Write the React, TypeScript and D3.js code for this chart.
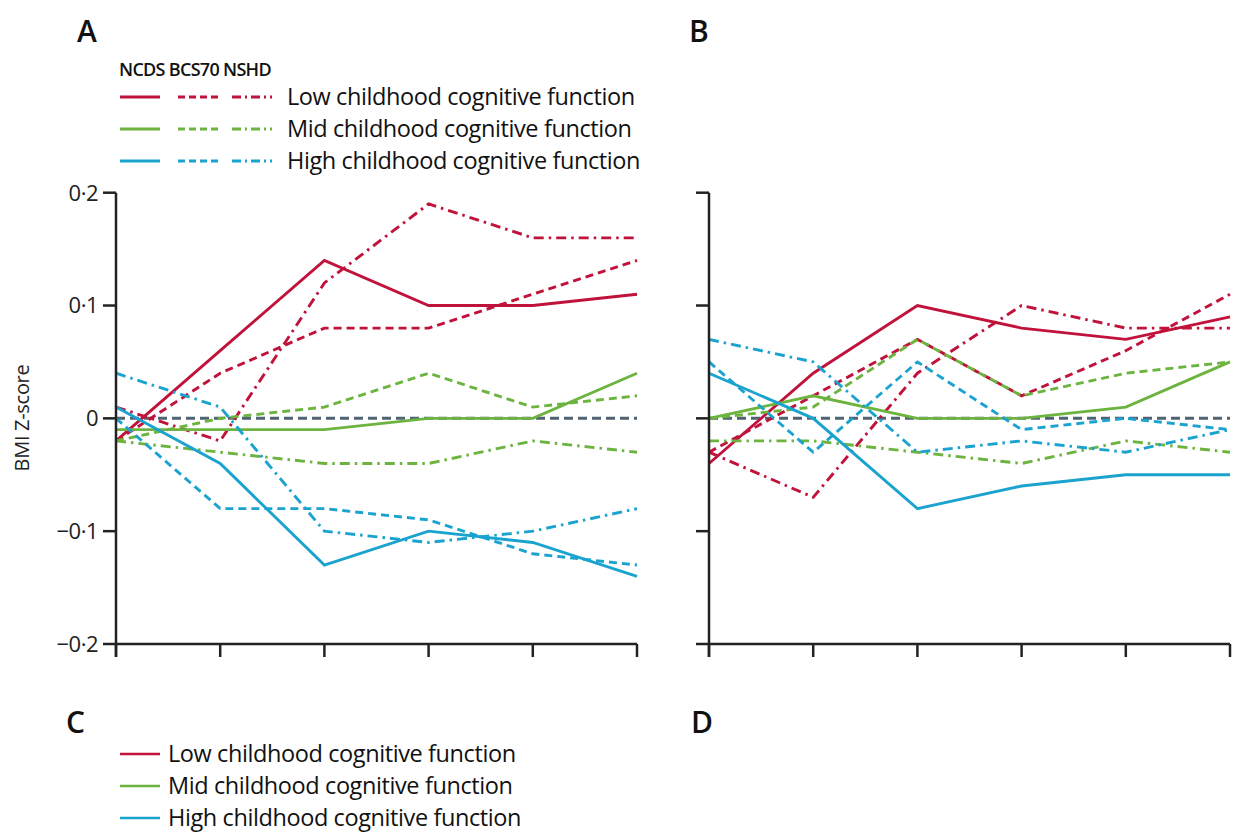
import * as d3 from "d3";
import React from "react";

// time points (x axis has no labels in the figure)
const waves = ["w1", "w2", "w3", "w4", "w5", "w6"];
const cohorts = ["NCDS", "BCS70", "NSHD"];
const groups = ["Low", "Mid", "High"];
const groupLabels = [
  "Low childhood cognitive function",
  "Mid childhood cognitive function",
  "High childhood cognitive function",
];
const yTicks = [0.2, 0.1, 0, -0.1, -0.2];
const yTickLabels = ["0·2", "0·1", "0", "−0·1", "−0·2"];

// Panel A
const aLowNCDS = [-0.02, 0.06, 0.14, 0.1, 0.1, 0.11];
const aLowBCS70 = [-0.02, 0.04, 0.08, 0.08, 0.11, 0.14];
const aLowNSHD = [0.01, -0.02, 0.12, 0.19, 0.16, 0.16];
const aMidNCDS = [-0.01, -0.01, -0.01, 0.0, 0.0, 0.04];
const aMidBCS70 = [-0.02, 0.0, 0.01, 0.04, 0.01, 0.02];
const aMidNSHD = [-0.02, -0.03, -0.04, -0.04, -0.02, -0.03];
const aHighNCDS = [0.01, -0.04, -0.13, -0.1, -0.11, -0.14];
const aHighBCS70 = [0.0, -0.08, -0.08, -0.09, -0.12, -0.13];
const aHighNSHD = [0.04, 0.01, -0.1, -0.11, -0.1, -0.08];

// Panel B
const bLowNCDS = [-0.04, 0.04, 0.1, 0.08, 0.07, 0.09];
const bLowBCS70 = [-0.03, 0.02, 0.07, 0.02, 0.06, 0.11];
const bLowNSHD = [-0.03, -0.07, 0.04, 0.1, 0.08, 0.08];
const bMidNCDS = [0.0, 0.02, 0.0, 0.0, 0.01, 0.05];
const bMidBCS70 = [0.0, 0.01, 0.07, 0.02, 0.04, 0.05];
const bMidNSHD = [-0.02, -0.02, -0.03, -0.04, -0.02, -0.03];
const bHighNCDS = [0.04, 0.0, -0.08, -0.06, -0.05, -0.05];
const bHighBCS70 = [0.05, -0.03, 0.05, -0.01, 0.0, -0.01];
const bHighNSHD = [0.07, 0.05, -0.03, -0.02, -0.03, -0.01];

const panelA = [
  [aLowNCDS, aLowBCS70, aLowNSHD],
  [aMidNCDS, aMidBCS70, aMidNSHD],
  [aHighNCDS, aHighBCS70, aHighNSHD],
];
const panelB = [
  [bLowNCDS, bLowBCS70, bLowNSHD],
  [bMidNCDS, bMidBCS70, bMidNSHD],
  [bHighNCDS, bHighBCS70, bHighNSHD],
];

const colors = { Low: "#c1123b", Mid: "#6cb43f", High: "#1ba3cf" };
const dashes = { NCDS: null, BCS70: "8,5", NSHD: "10,5,2.5,5" };
const FONT = "'Open Sans', sans-serif";

const y = d3.scaleLinear().domain([-0.2, 0.2]).range([644, 192.7]);

function Panel({ x0, x1, data, showLabels }) {
  const x = d3.scalePoint().domain(waves).range([x0, x1]);
  const line = d3
    .line<number>()
    .x((d, i) => x(waves[i]))
    .y((d) => y(d));
  return (
    <g>
      {/* reference line */}
      <line
        x1={x0}
        x2={x1}
        y1={y(0)}
        y2={y(0)}
        stroke="#4f6373"
        strokeWidth={3}
        strokeDasharray="9,5"
      />
      {groups.map((g, gi) =>
        cohorts.map((c, ci) => (
          <path
            key={g + c}
            d={line(data[gi][ci])}
            fill="none"
            stroke={colors[g]}
            strokeWidth={2.9}
            strokeDasharray={dashes[c] || undefined}
          />
        ))
      )}
      {/* axes */}
      <line x1={x0} x2={x0} y1={y(0.2)} y2={y(-0.2) + 13} stroke="#222" strokeWidth={2.5} />
      <line x1={x0} x2={x1} y1={y(-0.2)} y2={y(-0.2)} stroke="#222" strokeWidth={2.5} />
      {yTicks.map((t, i) => (
        <g key={t}>
          <line x1={x0 - 13} x2={x0} y1={y(t)} y2={y(t)} stroke="#222" strokeWidth={2.5} />
          {showLabels && (
            <text
              x={x0 - 18}
              y={y(t)}
              dy="0.36em"
              textAnchor="end"
              fontSize={22}
              fontFamily={FONT}
              fill="#222"
              letterSpacing={-0.5}
            >
              {yTickLabels[i]}
            </text>
          )}
        </g>
      ))}
      {waves.map((w) => (
        <line
          key={w}
          x1={x(w)}
          x2={x(w)}
          y1={y(-0.2)}
          y2={y(-0.2) + 13}
          stroke="#222"
          strokeWidth={2.5}
        />
      ))}
    </g>
  );
}

export default function App() {
  const legendY = [97, 129, 161];
  const legendCY = [754, 786, 818];
  const sampleX = [
    [120, 160],
    [178, 218],
    [232, 272],
  ];
  return (
    <div style={{ position: "absolute", left: 0, top: 0 }}>
      <svg width={1236} height={832} style={{ display: "block", background: "#fff" }}>
        <text x={77} y={42} fontSize={30} fontWeight={600} fontFamily={FONT} fill="#111">A</text>
        <text x={689} y={42} fontSize={30} fontWeight={600} fontFamily={FONT} fill="#111">B</text>
        <text x={66} y={733} fontSize={30} fontWeight={600} fontFamily={FONT} fill="#111">C</text>
        <text x={691} y={733} fontSize={30} fontWeight={600} fontFamily={FONT} fill="#111">D</text>

        {/* legend A */}
        <text x={119} y={76} fontSize={18} fontWeight={600} fontFamily={FONT} fill="#111" letterSpacing={-0.7}>
          {cohorts.join(" ")}
        </text>
        {groups.map((g, gi) => (
          <g key={g}>
            {cohorts.map((c, ci) => (
              <line
                key={c}
                x1={sampleX[ci][0]}
                x2={sampleX[ci][1]}
                y1={legendY[gi]}
                y2={legendY[gi]}
                stroke={colors[g]}
                strokeWidth={3}
                strokeDasharray={ci === 0 ? undefined : ci === 1 ? "7,4" : "9,4,2,4"}
              />
            ))}
            <text x={287} y={legendY[gi]} dy="0.35em" fontSize={23.5} fontFamily={FONT} fill="#111" letterSpacing={-0.4}>
              {groupLabels[gi]}
            </text>
          </g>
        ))}

        <text
          transform="translate(29,418) rotate(-90)"
          textAnchor="middle"
          fontSize={20}
          fontFamily={FONT}
          fill="#222"
          letterSpacing={-0.3}
        >
          BMI Z-score
        </text>

        <Panel x0={116} x1={637} data={panelA} showLabels={true} />
        <Panel x0={709} x1={1230} data={panelB} showLabels={false} />

        {/* legend C */}
        {groups.map((g, gi) => (
          <g key={g}>
            <line x1={120} x2={160} y1={legendCY[gi]} y2={legendCY[gi]} stroke={colors[g]} strokeWidth={2.5} />
            <text x={168} y={legendCY[gi]} dy="0.35em" fontSize={23.5} fontFamily={FONT} fill="#111" letterSpacing={-0.4}>
              {groupLabels[gi]}
            </text>
          </g>
        ))}
      </svg>
    </div>
  );
}
